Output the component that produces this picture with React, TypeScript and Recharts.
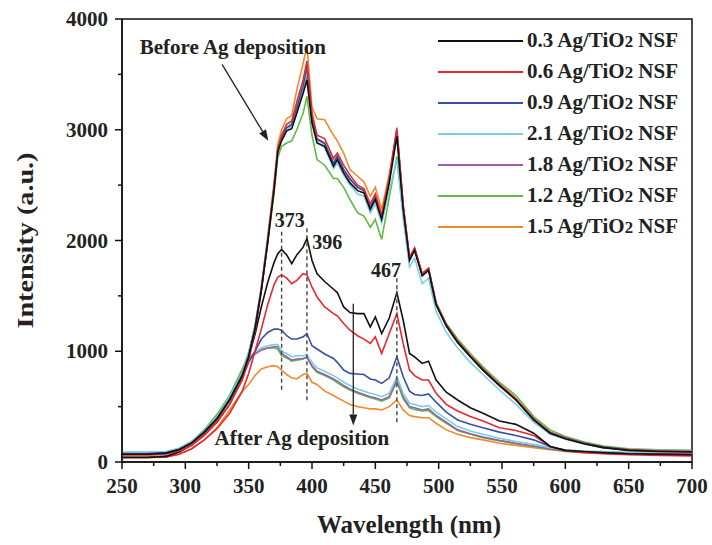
import React from "react";
import { LineChart, Line, XAxis, YAxis, ReferenceLine, ReferenceArea, ReferenceDot } from "recharts";

// wavelength grid (nm)
const wavelengths = [
  250, 270, 285, 295, 305, 315, 325, 335, 345, 350, 355, 360, 365, 370, 373, 376, 380, 384, 388, 393,
  396, 400, 404, 410, 417, 420, 425, 430, 436, 441, 446, 450, 455, 461, 467, 472, 477, 481, 487, 492,
  498, 506, 515, 525, 535, 548, 561, 575, 588, 600, 615, 630, 650, 675, 700,
];

// before Ag deposition
const before03 = [70, 70, 80, 110, 170, 270, 390, 560, 780, 950, 1200, 1550, 1980, 2450, 2800, 2900, 2990, 3010, 3150, 3330, 3450, 3060, 2880, 2850, 2670, 2730, 2610, 2520, 2450, 2430, 2280, 2370, 2190, 2520, 2940, 2280, 1820, 1910, 1680, 1730, 1420, 1230, 1080, 950, 830, 690, 560, 380, 260, 210, 165, 130, 105, 95, 90];
const before06 = [65, 65, 75, 100, 150, 245, 360, 520, 740, 920, 1180, 1540, 1990, 2480, 2830, 2950, 3050, 3080, 3250, 3450, 3620, 3150, 2950, 2920, 2740, 2790, 2680, 2590, 2500, 2470, 2330, 2420, 2230, 2560, 3000, 2320, 1850, 1930, 1700, 1750, 1430, 1240, 1090, 960, 840, 700, 570, 390, 265, 215, 165, 130, 110, 100, 95];
const before09 = [75, 75, 85, 115, 175, 275, 395, 570, 790, 960, 1210, 1560, 2000, 2470, 2820, 2930, 3020, 3050, 3200, 3400, 3570, 3100, 2920, 2880, 2700, 2760, 2640, 2550, 2480, 2450, 2300, 2390, 2210, 2540, 2990, 2300, 1840, 1920, 1690, 1740, 1420, 1230, 1080, 950, 830, 690, 560, 385, 265, 215, 170, 135, 110, 100, 95];
const before21 = [90, 90, 95, 125, 185, 285, 410, 590, 810, 980, 1230, 1580, 2010, 2480, 2830, 2920, 3000, 3030, 3180, 3380, 3540, 3080, 2880, 2840, 2650, 2700, 2590, 2500, 2420, 2400, 2250, 2330, 2160, 2450, 2730, 2200, 1760, 1840, 1610, 1660, 1360, 1170, 1030, 900, 790, 650, 520, 360, 250, 205, 160, 130, 110, 105, 100];
const before18 = [85, 85, 90, 120, 180, 280, 400, 580, 800, 970, 1220, 1570, 2000, 2470, 2820, 2930, 3020, 3040, 3190, 3380, 3500, 3090, 2910, 2870, 2690, 2760, 2640, 2560, 2480, 2450, 2300, 2400, 2210, 2560, 3020, 2310, 1840, 1930, 1690, 1740, 1430, 1240, 1090, 960, 840, 700, 570, 390, 270, 220, 170, 135, 110, 100, 95];
const before12 = [70, 70, 85, 120, 185, 290, 420, 600, 830, 990, 1230, 1560, 1970, 2420, 2750, 2850, 2880, 2900, 3000, 3150, 3300, 2950, 2730, 2680, 2560, 2560, 2480, 2370, 2250, 2220, 2120, 2190, 2010, 2390, 2760, 2250, 1830, 1920, 1700, 1750, 1440, 1250, 1110, 980, 860, 720, 600, 410, 290, 230, 180, 145, 120, 110, 105];
const before15 = [60, 60, 75, 105, 165, 265, 385, 560, 780, 950, 1210, 1580, 2030, 2520, 2870, 3000, 3100, 3130, 3360, 3600, 3760, 3200, 3100, 3090, 2950, 2900, 2790, 2640, 2580, 2530, 2400, 2480, 2280, 2600, 2990, 2310, 1840, 1930, 1700, 1750, 1430, 1240, 1090, 960, 840, 700, 570, 390, 265, 215, 165, 130, 105, 95, 90];

// after Ag deposition
const after03 = [40, 40, 50, 90, 160, 260, 380, 560, 800, 950, 1150, 1400, 1620, 1800, 1880, 1920, 1870, 1790, 1870, 1940, 2020, 1820, 1700, 1630, 1560, 1530, 1400, 1350, 1340, 1340, 1220, 1310, 1160, 1300, 1530, 1280, 980, 950, 890, 910, 740, 630, 560, 490, 440, 370, 340, 260, 140, 105, 95, 85, 75, 70, 65];
const after06 = [40, 40, 45, 70, 120, 200, 300, 440, 640, 800, 1000, 1200, 1420, 1600, 1670, 1690, 1660, 1610, 1640, 1700, 1690, 1580, 1490, 1400, 1340, 1320, 1250, 1190, 1140, 1110, 1070, 1130, 980, 1160, 1340, 1070, 830, 780, 740, 740, 620, 520, 460, 410, 370, 310, 285, 240, 140, 100, 85, 75, 65, 60, 55];
const after09 = [45, 45, 55, 90, 150, 240, 360, 520, 760, 900, 1000, 1110, 1170, 1200, 1200, 1190, 1140, 1110, 1110, 1130, 1160, 1050, 1020, 975, 935, 900, 830, 800, 795, 790, 750, 740, 710, 760, 950, 770, 640, 610, 600, 615, 540, 450, 380, 340, 310, 270, 240, 200, 140, 105, 90, 80, 75, 70, 65];
const after21 = [75, 75, 80, 110, 170, 270, 400, 580, 820, 940, 990, 1030, 1050, 1060, 1060, 1000, 980, 950, 960, 960, 970, 900, 850, 820, 780, 760, 720, 690, 660, 640, 620, 610, 590, 620, 770, 620, 530, 520, 500, 510, 450, 390, 320, 280, 250, 215, 185, 160, 130, 110, 100, 95, 90, 90, 90];
const after18 = [70, 70, 75, 105, 165, 265, 395, 575, 810, 930, 975, 1010, 1030, 1040, 1040, 980, 950, 920, 930, 935, 945, 870, 820, 790, 750, 730, 690, 660, 630, 610, 590, 580, 560, 590, 740, 590, 500, 490, 470, 480, 420, 360, 290, 255, 225, 195, 170, 145, 120, 100, 90, 85, 80, 80, 80];
const after12 = [60, 60, 75, 115, 180, 290, 430, 600, 840, 950, 985, 1015, 1030, 1030, 1020, 960, 940, 910, 920, 930, 950, 860, 810, 780, 740, 715, 680, 650, 620, 600, 580, 570, 550, 580, 730, 570, 490, 475, 460, 465, 410, 350, 285, 250, 220, 190, 165, 140, 115, 95, 85, 80, 75, 75, 75];
const after15 = [40, 40, 45, 70, 120, 200, 310, 470, 640, 700, 780, 840, 860, 870, 860, 830, 790, 760, 750, 790, 800, 720, 700, 640, 600, 580, 550, 520, 500, 490, 480, 480, 470, 500, 560, 470, 420, 410, 400, 400, 350, 290, 250, 220, 200, 170, 150, 130, 110, 100, 90, 80, 75, 70, 70];

const sampleNames = ["0.3", "0.6", "0.9", "2.1", "1.8", "1.2", "1.5"];
const sampleColors = ["#111111", "#e8282e", "#3452a4", "#78cfe0", "#9b5fa8", "#5dbb46", "#f08a2e"];
const beforeSets = [before03, before06, before09, before21, before18, before12, before15];
const afterSets = [after03, after06, after09, after21, after18, after12, after15];

const xTicks = [250, 275, 300, 325, 350, 375, 400, 425, 450, 475, 500, 525, 550, 575, 600, 625, 650, 675, 700];
const yTicks = [0, 500, 1000, 1500, 2000, 2500, 3000, 3500, 4000];

const rows = wavelengths.map((w, i) => {
  const row: Record<string, number> = { w };
  sampleNames.forEach((_, k) => {
    row[`b${k}`] = beforeSets[k][i];
    row[`a${k}`] = afterSets[k][i];
  });
  return row;
});

const FONT = "'Liberation Serif', 'Times New Roman', serif";
const TS = 7;
const TM = 6;

const XTick = (props: any) => {
  const { x, y, payload } = props;
  const ay = y - TS - TM;
  const major = payload.value % 50 === 0;
  return (
    <g>
      <line x1={x} x2={x} y1={ay} y2={ay + (major ? 7 : 4)} stroke="#111" strokeWidth={1.5} />
      {major && (
        <text x={x} y={ay + 31} textAnchor="middle" fontSize={21} fontWeight="bold" fontFamily={FONT} fill="#222">
          {payload.value}
        </text>
      )}
    </g>
  );
};

const YTick = (props: any) => {
  const { x, y, payload } = props;
  const ax = x + TS + TM;
  const major = payload.value % 1000 === 0;
  return (
    <g>
      <line x1={ax - (major ? 7 : 4)} x2={ax} y1={y} y2={y} stroke="#111" strokeWidth={1.5} />
      {major && (
        <text x={ax - 14} y={y + 7} textAnchor="end" fontSize={21} fontWeight="bold" fontFamily={FONT} fill="#222">
          {payload.value}
        </text>
      )}
    </g>
  );
};

const yTitle = (props: any) => {
  const { viewBox } = props;
  const cx = viewBox.x - 37;
  const cy = viewBox.y + viewBox.height / 2;
  return (
    <text x={cx} y={cy} transform={`rotate(-90, ${cx}, ${cy})`} textAnchor="middle" dominantBaseline="central"
      fontSize={24} fontWeight="bold" fontFamily={FONT} fill="#222" textLength={176} lengthAdjust="spacingAndGlyphs">
      Intensity (a.u.)
    </text>
  );
};

const xTitle = (props: any) => {
  const { viewBox } = props;
  return (
    <text x={viewBox.x + viewBox.width / 2 + 2} y={viewBox.y + 62} textAnchor="middle" dominantBaseline="central"
      fontSize={25} fontWeight="bold" fontFamily={FONT} fill="#222">
      Wavelength (nm)
    </text>
  );
};

// arrow with a filled head
const arrow = (p: any) => {
  const { x1, y1, x2, y2 } = p;
  const a = Math.atan2(y2 - y1, x2 - x1);
  const L = 11;
  const W = 4;
  const bx = x2 - L * Math.cos(a);
  const by = y2 - L * Math.sin(a);
  const px = -Math.sin(a) * W;
  const py = Math.cos(a) * W;
  return (
    <g>
      <line x1={x1} y1={y1} x2={bx} y2={by} stroke="#222" strokeWidth={1.3} />
      <polygon points={`${x2},${y2} ${bx + px},${by + py} ${bx - px},${by - py}`} fill="#222" />
    </g>
  );
};

const textAt = (label: string, anchor: string, size: number) => (p: any) => (
  <text x={p.cx} y={p.cy} textAnchor={anchor} dominantBaseline="central" fontSize={size} fontWeight="bold"
    fontFamily={FONT} fill="#222">
    {label}
  </text>
);

const drawOrder = [6, 5, 4, 3, 2, 1, 0];

export default function App() {
  return (
    <div style={{ position: "absolute", left: 0, top: 0, width: 712, height: 545, background: "#fff" }}>
      <LineChart width={712} height={545} data={rows} margin={{ top: 19, right: 20, bottom: 23, left: 62 }}>
        <XAxis
          dataKey="w"
          type="number"
          domain={[250, 700]}
          ticks={xTicks}
          interval={0}
          height={60}
          tickSize={TS}
          tickMargin={TM}
          tickLine={false}
          tick={XTick}
          axisLine={{ stroke: "#111", strokeWidth: 1.5 }}
          label={xTitle}
        />
        <YAxis
          type="number"
          domain={[0, 4000]}
          ticks={yTicks}
          interval={0}
          width={60}
          tickSize={TS}
          tickMargin={TM}
          tickLine={false}
          tick={YTick}
          axisLine={{ stroke: "#111", strokeWidth: 1.5 }}
          label={yTitle}
        />
        <ReferenceArea x1={250} x2={700} y1={0} y2={4000} fill="none" stroke="#111" strokeWidth={1.5} ifOverflow="visible" />

        {drawOrder.map((k) => (
          <Line key={`a${k}`} dataKey={`a${k}`} type="linear" stroke={sampleColors[k]} strokeWidth={1.6}
            dot={false} isAnimationActive={false} />
        ))}
        {drawOrder.map((k) => (
          <Line key={`b${k}`} dataKey={`b${k}`} type="linear" stroke={sampleColors[k]} strokeWidth={1.6}
            dot={false} isAnimationActive={false} />
        ))}

        <ReferenceLine segment={[{ x: 376, y: 2080 }, { x: 376, y: 650 }]} stroke="#444" strokeWidth={1.4} strokeDasharray="4 3" />
        <ReferenceLine segment={[{ x: 396, y: 2110 }, { x: 396, y: 530 }]} stroke="#444" strokeWidth={1.4} strokeDasharray="4 3" />
        <ReferenceLine segment={[{ x: 467, y: 1660 }, { x: 467, y: 350 }]} stroke="#444" strokeWidth={1.4} strokeDasharray="4 3" />

        <ReferenceLine segment={[{ x: 329, y: 3590 }, { x: 365.5, y: 2900 }]} shape={arrow} />
        <ReferenceLine segment={[{ x: 432.6, y: 1430 }, { x: 432.6, y: 330 }]} shape={arrow} />

        <ReferenceDot x={264} y={3750} shape={textAt("Before Ag deposition", "start", 21)} />
        <ReferenceDot x={392} y={215} shape={textAt("After Ag deposition", "middle", 21)} />
        <ReferenceDot x={382.5} y={2186} shape={textAt("373", "middle", 20)} />
        <ReferenceDot x={412} y={1990} shape={textAt("396", "middle", 20)} />
        <ReferenceDot x={458.5} y={1733} shape={textAt("467", "middle", 20)} />
      </LineChart>

      <div style={{ position: "absolute", left: 438, top: 25, fontFamily: FONT, fontWeight: "bold", fontSize: 21, color: "#222" }}>
        {sampleNames.map((n, k) => (
          <div key={n} style={{ display: "flex", alignItems: "center", height: 31 }}>
            <div style={{ width: 85, height: 2, background: sampleColors[k], marginRight: 4 }} />
            <span style={{ whiteSpace: "nowrap" }}>
              {n} Ag/TiO<span style={{ fontSize: "0.8em" }}>2</span> NSF
            </span>
          </div>
        ))}
      </div>
    </div>
  );
}
